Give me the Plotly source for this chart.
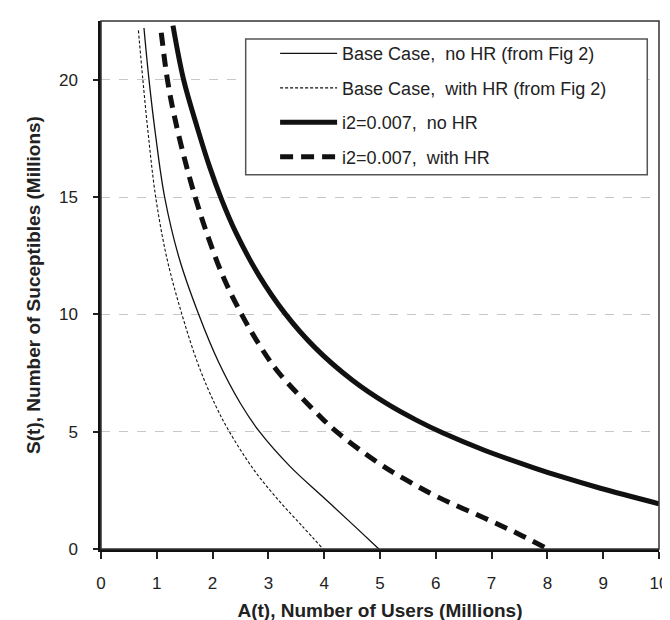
import plotly.graph_objects as go

# ---- data ----
base_nohr_x = [0.77, 0.86, 0.98, 1.14, 1.40, 1.75, 2.10, 2.50, 2.84, 3.40, 3.95, 4.50, 4.98]
base_nohr_y = [22.2, 20.0, 17.6, 15.0, 12.4, 10.0, 8.0, 6.2, 5.0, 3.49, 2.28, 1.07, 0.0]

base_hr_x = [0.67, 0.75, 0.85, 0.98, 1.18, 1.45, 1.75, 2.05, 2.30, 2.75, 3.20, 3.60, 3.98]
base_hr_y = [22.1, 20.0, 17.6, 15.0, 12.4, 10.0, 7.81, 6.13, 5.0, 3.34, 2.03, 0.99, 0.0]

i2_nohr_x = [1.29, 1.48, 1.72, 1.95, 2.16, 2.42, 2.83, 3.30, 3.84, 4.50, 5.13, 5.66, 6.13, 6.87, 7.77, 8.25, 8.95, 10.0]
i2_nohr_y = [22.3, 20.0, 18.0, 16.26, 14.9, 13.47, 11.66, 10.03, 8.57, 7.2, 6.18, 5.48, 4.94, 4.21, 3.45, 3.08, 2.59, 1.93]

i2_hr_x = [1.08, 1.19, 1.31, 1.50, 1.70, 1.89, 2.19, 2.52, 2.85, 3.19, 3.83, 4.22, 4.95, 5.50, 6.05, 6.89, 7.50, 8.01]
i2_hr_y = [22.0, 20.0, 18.5, 16.6, 14.9, 13.5, 11.6, 10.0, 8.65, 7.5, 5.88, 5.0, 3.7, 2.9, 2.2, 1.3, 0.62, 0.0]

names = ["Base Case,  no HR (from Fig 2)", "Base Case,  with HR (from Fig 2)",
         "i2=0.007,  no HR", "i2=0.007,  with HR"]

x_ticks = list(range(0, 11))
y_ticks = [0, 5, 10, 15, 20]

FONT = "Liberation Sans, Arial, sans-serif"
INK = "#111111"
SM = 1.0

fig = go.Figure()
fig.add_trace(go.Scatter(x=base_nohr_x, y=base_nohr_y, mode="lines", name=names[0],
                         line=dict(color=INK, width=1.3, shape="spline", smoothing=SM),
                         legendgroup="a"))
fig.add_trace(go.Scatter(x=base_hr_x, y=base_hr_y, mode="lines", name=names[1],
                         line=dict(color=INK, width=1.1, dash="3px,2px", shape="spline", smoothing=SM),
                         legendgroup="b"))
fig.add_trace(go.Scatter(x=i2_nohr_x, y=i2_nohr_y, mode="lines", name=names[2],
                         line=dict(color=INK, width=5, shape="spline", smoothing=SM),
                         legendgroup="c"))
fig.add_trace(go.Scatter(x=i2_hr_x, y=i2_hr_y, mode="lines", name=names[3],
                         line=dict(color=INK, width=5, dash="13px,8px", shape="spline", smoothing=SM),
                         legendgroup="d"))

fig.update_layout(
    width=670, height=620,
    margin=dict(l=93, r=10, t=13, b=74),
    paper_bgcolor="white", plot_bgcolor="white",
    font=dict(family=FONT, size=17, color="#222222"),
    showlegend=True,
    legend=dict(x=0.312, y=0.973, xanchor="left", yanchor="top",
                bgcolor="rgba(0,0,0,0)", borderwidth=0,
                font=dict(size=18, color="#222222"),
                traceorder="grouped", tracegroupgap=8, itemwidth=57,
                itemclick=False),
    xaxis=dict(range=[0, 10], tickvals=x_ticks, ticks="outside", ticklen=7, tickwidth=1.5,
               tickcolor="#222", showline=True, linewidth=2.5, linecolor="#111",
               showgrid=False, zeroline=False, ticklabelstandoff=10,
               title=dict(text="<b>A(t), Number of Users (Millions)</b>", font=dict(size=19, color="#222"),
                          standoff=12)),
    yaxis=dict(range=[0, 22.5], tickvals=y_ticks, ticks="outside", ticklen=5, tickwidth=1.5,
               tickcolor="#222", showline=True, linewidth=2.5, linecolor="#111",
               showgrid=True, gridcolor="#c8c8c8", griddash="dash", gridwidth=1,
               zeroline=False, ticklabelstandoff=12,
               title=dict(text="<b>S(t), Number of Suceptibles (Millions)</b>", font=dict(size=19, color="#222"),
                          standoff=14)),
    shapes=[
        dict(type="rect", xref="paper", yref="paper", x0=0, y0=0, x1=1, y1=1,
             line=dict(color="#333", width=1.5), layer="above"),
        dict(type="rect", xref="paper", yref="paper", x0=0.2593, y0=0.7088, x1=0.979, y1=0.9657,
             line=dict(color="#555", width=1.5), fillcolor="white", layer="above"),
    ],
)

fig.write_html("out.html")
